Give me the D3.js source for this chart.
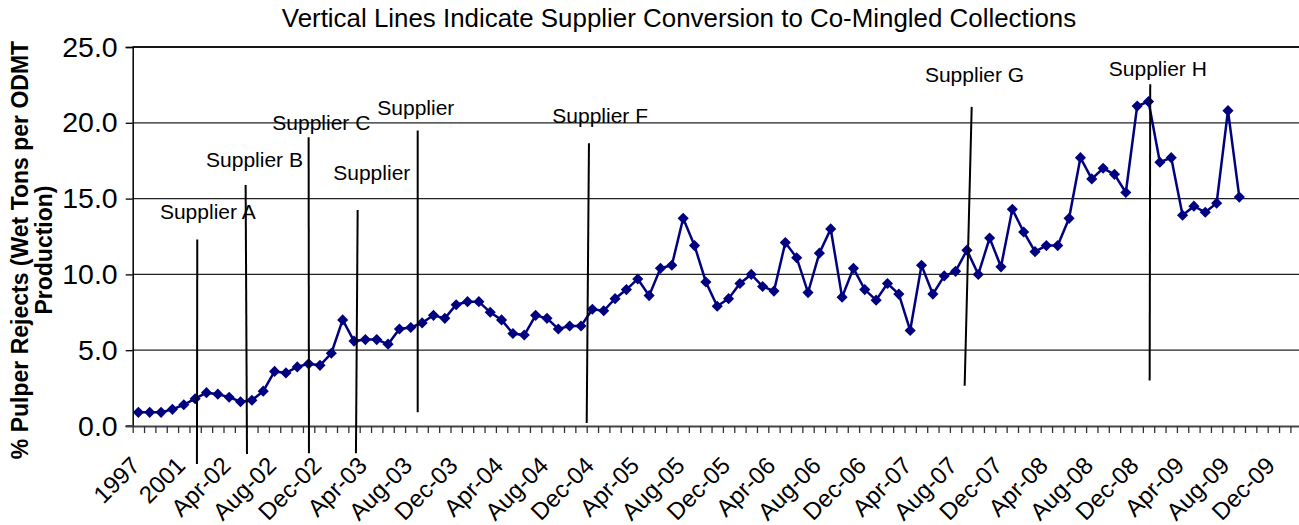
<!DOCTYPE html>
<html>
<head>
<meta charset="utf-8">
<script src="https://cdnjs.cloudflare.com/ajax/libs/d3/7.8.5/d3.min.js"></script>
<style>
  body { margin: 0; background: #fff; }
  text { font-family: Arial, "Liberation Sans", sans-serif; fill: #000; }
</style>
</head>
<body>
<div id="chart"></div>
<script>
// annual averages first, then monthly figures from Jan-02
var annualLabels = ["1997", "1998", "1999", "2000", "2001"];
var monthNames = ["Jan", "Feb", "Mar", "Apr", "May", "Jun", "Jul", "Aug", "Sep", "Oct", "Nov", "Dec"];
var monthYears = ["02", "03", "04", "05", "06", "07", "08", "09", "10"];

// % pulper rejects, 1997 .. Sep-09
var rejects = [
  0.9, 0.9, 0.9, 1.1, 1.4,
  1.8, 2.2, 2.1, 1.9, 1.6, 1.7, 2.3, 3.6, 3.5, 3.9, 4.1, 4.0,
  4.8, 7.0, 5.6, 5.7, 5.7, 5.4, 6.4, 6.5, 6.8, 7.3, 7.1, 8.0,
  8.2, 8.2, 7.5, 7.0, 6.1, 6.0, 7.3, 7.1, 6.4, 6.6, 6.6, 7.7,
  7.6, 8.4, 9.0, 9.7, 8.6, 10.4, 10.6, 13.7, 11.9, 9.5, 7.9, 8.4,
  9.4, 10.0, 9.2, 8.9, 12.1, 11.1, 8.8, 11.4, 13.0, 8.5, 10.4, 9.0,
  8.3, 9.4, 8.7, 6.3, 10.6, 8.7, 9.9, 10.2, 11.6, 10.0, 12.4, 10.5,
  14.3, 12.8, 11.5, 11.9, 11.9, 13.7, 17.7, 16.3, 17.0, 16.6, 15.4, 21.1,
  21.4, 17.4, 17.7, 13.9, 14.5, 14.1, 14.7, 20.8, 15.1
];

var yTicks = [0, 5, 10, 15, 20, 25];

// supplier conversion markers, in category index / value units
var suppliers = [
  {name: "Supplier A", x1: 5.19, top: 12.3, x2: 5.16, bottom: -2.5, lx: 1.9, ly: 13.65},
  {name: "Supplier B", x1: 9.45, top: 15.9, x2: 9.57, bottom: -1.85, lx: 5.96, ly: 17.1},
  {name: "Supplier C", x1: 15.0, top: 19.05, x2: 15.03, bottom: -1.8, lx: 11.8, ly: 19.55},
  {name: "Supplier", x1: 19.32, top: 14.25, x2: 19.17, bottom: -1.8, lx: 17.17, ly: 16.2},
  {name: "Supplier", x1: 24.61, top: 19.5, x2: 24.61, bottom: 0.9, lx: 21.05, ly: 20.5},
  {name: "Supplier F", x1: 39.7, top: 18.65, x2: 39.5, bottom: 0.2, lx: 36.47, ly: 20.0},
  {name: "Supplier G", x1: 73.42, top: 21.05, x2: 72.8, bottom: 2.65, lx: 69.3, ly: 22.7},
  {name: "Supplier H", x1: 89.15, top: 22.55, x2: 89.1, bottom: 3.0, lx: 85.5, ly: 23.1}
];

var categories = annualLabels.slice();
monthYears.forEach(function(yy) {
  monthNames.forEach(function(m) { categories.push(m + "-" + yy); });
});
categories = categories.slice(0, 103);

var width = 1299, height = 525;
var plotLeft = 132.7, plotTop = 47, plotBottom = 426, step = 11.35;

var svg = d3.select("#chart").append("svg")
  .attr("width", width)
  .attr("height", height);

var x = d3.scaleBand()
  .domain(categories)
  .range([plotLeft, plotLeft + categories.length * step])
  .padding(0);

// category boundaries (tick marks)
var xb = d3.scaleLinear()
  .domain([0, categories.length])
  .range([plotLeft, plotLeft + categories.length * step]);

// category index -> centre pixel (fractional positions for the markers)
var xi = d3.scaleLinear()
  .domain([-0.5, categories.length - 0.5])
  .range([plotLeft, plotLeft + categories.length * step]);

var y = d3.scaleLinear()
  .domain([0, 25])
  .range([plotBottom, plotTop]);

// title
svg.append("text")
  .attr("x", 679)
  .attr("y", 27)
  .attr("text-anchor", "middle")
  .style("font-size", "25.9px")
  .text("Vertical Lines Indicate Supplier Conversion to Co-Mingled Collections");

// gridlines
svg.append("g")
  .selectAll("line")
  .data(yTicks.filter(function(d) { return d > 0; }))
  .enter()
  .append("line")
  .attr("x1", plotLeft)
  .attr("x2", width)
  .attr("y1", function(d) { return y(d); })
  .attr("y2", function(d) { return y(d); })
  .attr("stroke", "#222")
  .attr("stroke-width", 1.3);

// y axis
var yAxis = svg.append("g")
  .attr("transform", "translate(" + plotLeft + ",0)")
  .call(d3.axisLeft(y).tickValues(yTicks).tickFormat(d3.format(".1f")).tickSize(7).tickPadding(8));
yAxis.select(".domain").attr("stroke", "#000").attr("stroke-width", 1.5);
yAxis.selectAll(".tick line").attr("stroke", "#000").attr("stroke-width", 1.3);
yAxis.selectAll(".tick text")
  .style("font-size", "28.5px")
  .style("font-family", "Arial, 'Liberation Sans', sans-serif");

// x axis: ticks at category boundaries
var xAxis = svg.append("g")
  .attr("transform", "translate(0," + plotBottom + ")")
  .call(d3.axisBottom(xb).tickValues(d3.range(categories.length + 1)).tickFormat("").tickSize(7).tickSizeOuter(0));
xAxis.select(".domain").attr("stroke", "#444").attr("stroke-width", 2);
xAxis.selectAll(".tick line").attr("stroke", "#333").attr("stroke-width", 1.3);

svg.append("line")
  .attr("x1", plotLeft - 7).attr("x2", plotLeft)
  .attr("y1", plotBottom).attr("y2", plotBottom)
  .attr("stroke", "#444").attr("stroke-width", 2);

// x labels every 4th category
svg.append("g")
  .selectAll("text")
  .data(categories.filter(function(d, i) { return i % 4 === 0 && i <= 100; }))
  .enter()
  .append("text")
  .attr("text-anchor", "end")
  .attr("transform", function(d) {
    return "translate(" + (x(d) + x.bandwidth() / 2 + 3) + "," + (plotBottom + 41) + ") rotate(-45)";
  })
  .style("font-size", "24px")
  .text(function(d) { return d; });

// y axis title
var yTitle = svg.append("text")
  .attr("transform", "translate(28,250) rotate(-90)")
  .attr("text-anchor", "middle")
  .style("font-size", "23px")
  .style("font-weight", "bold");
yTitle.append("tspan").attr("x", 0).attr("dy", 0).text("% Pulper Rejects (Wet Tons per ODMT");
yTitle.append("tspan").attr("x", 0).attr("dy", 24).text("Production)");

// top border
svg.append("line")
  .attr("x1", plotLeft).attr("x2", width)
  .attr("y1", plotTop).attr("y2", plotTop)
  .attr("stroke", "#000").attr("stroke-width", 1.5);

// data line
var line = d3.line()
  .x(function(d, i) { return x(categories[i]) + x.bandwidth() / 2; })
  .y(function(d) { return y(d); });

svg.append("path")
  .datum(rejects)
  .attr("d", line)
  .attr("fill", "none")
  .attr("stroke", "#000080")
  .attr("stroke-width", 2.5);

svg.append("g")
  .selectAll("path")
  .data(rejects)
  .enter()
  .append("path")
  .attr("d", d3.symbol(d3.symbolSquare, 62))
  .attr("transform", function(d, i) {
    return "translate(" + (x(categories[i]) + x.bandwidth() / 2) + "," + y(d) + ") rotate(45)";
  })
  .attr("fill", "#000080");

// supplier markers
var marks = svg.append("g");
marks.selectAll("line")
  .data(suppliers)
  .enter()
  .append("line")
  .attr("x1", function(d) { return xi(d.x1); })
  .attr("y1", function(d) { return y(d.top); })
  .attr("x2", function(d) { return xi(d.x2); })
  .attr("y2", function(d) { return y(d.bottom); })
  .attr("stroke", "#000")
  .attr("stroke-width", 2);

marks.selectAll("text")
  .data(suppliers)
  .enter()
  .append("text")
  .attr("x", function(d) { return xi(d.lx); })
  .attr("y", function(d) { return y(d.ly); })
  .style("font-size", "21px")
  .text(function(d) { return d.name; });
</script>
</body>
</html>
